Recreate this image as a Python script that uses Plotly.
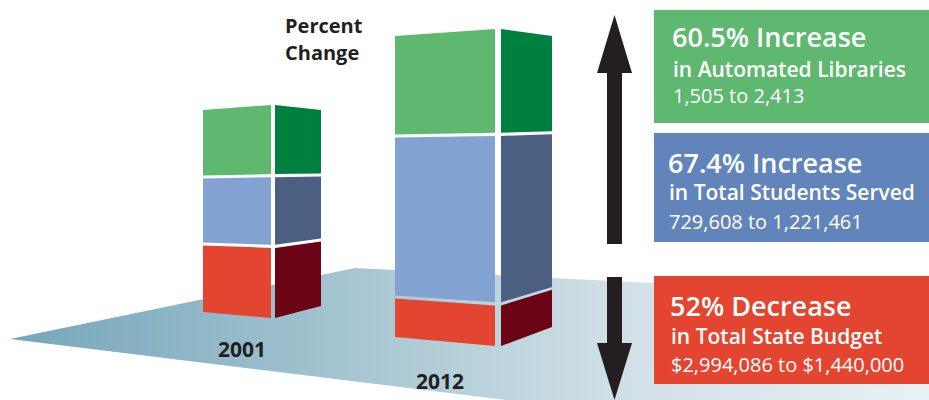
import plotly.graph_objects as go

# ---------------- data ----------------
years = ["2001", "2012"]
metrics = ["Total State Budget", "Total Students Served", "Automated Libraries"]  # bottom -> top
seg_2001 = [68, 67, 67]      # apparent segment heights (bottom -> top)
seg_2012 = [40, 161, 100]
pct_change = ["60.5% Increase", "67.4% Increase", "52% Decrease"]
box_metric = ["in Automated Libraries", "in Total Students Served", "in Total State Budget"]
box_range = ["1,505 to 2,413", "729,608 to 1,221,461", "$2,994,086 to $1,440,000"]

front_colors = ["#e44530", "#82a3d2", "#5eb86f"]
side_colors = ["#6b0414", "#4a5f82", "#00803f"]
box_colors = ["#5eb86f", "#6185ba", "#e44530"]
INK = "#231f20"

fig = go.Figure()

# floor
fig.add_trace(go.Scatter(
    x=[10, 355, 929, 929, 506, 10], y=[339, 268, 297, 400, 400, 339],
    mode="lines", fill="toself", line=dict(width=0),
    fillgradient=dict(type="horizontal",
                      colorscale=[[0, "#76a6bb"], [0.35, "#a2c3cf"], [0.65, "#cfdfe6"], [1, "#eaf1f4"]]),
    hoverinfo="skip", showlegend=False))

# bar geometry (pixel space)
bars = [
    dict(segs=seg_2001, fx=(203, 271), sx=(275, 321), base=312, fs=(6, -5), ss=(-12, 5)),
    dict(segs=seg_2012, fx=(395, 495), sx=(501, 552), base=337, fs=(9, -7), ss=(-19, 7)),
]
GAP = 3.0


def lerp(a, b, t):
    return a + (b - a) * t


for b in bars:
    segs = b["segs"]
    H = float(sum(segs))
    cum = [0.0]
    for s in segs:
        cum.append(cum[-1] + s)
    for i in range(len(segs)):
        h0 = cum[i] + (GAP / 2 if i > 0 else 0)
        h1 = cum[i + 1] - (GAP / 2 if i < len(segs) - 1 else 0)
        t0, t1 = h0 / H, h1 / H
        # front face
        yl0 = b["base"] - h0
        yl1 = b["base"] - h1
        yr0 = yl0 + lerp(b["fs"][0], b["fs"][1], t0)
        yr1 = yl1 + lerp(b["fs"][0], b["fs"][1], t1)
        fx0, fx1 = b["fx"]
        fig.add_trace(go.Scatter(
            x=[fx0, fx1, fx1, fx0, fx0], y=[yl0, yr0, yr1, yl1, yl0],
            mode="lines", fill="toself", fillcolor=front_colors[i], line=dict(width=0),
            hoverinfo="skip", showlegend=False))
        # side face
        sl0 = b["base"] - h0 + lerp(b["fs"][0], b["fs"][1], t0)
        sl1 = b["base"] - h1 + lerp(b["fs"][0], b["fs"][1], t1)
        sr0 = sl0 + lerp(b["ss"][0], b["ss"][1], t0)
        sr1 = sl1 + lerp(b["ss"][0], b["ss"][1], t1)
        sx0, sx1 = b["sx"]
        fig.add_trace(go.Scatter(
            x=[sx0, sx1, sx1, sx0, sx0], y=[sl0, sr0, sr1, sl1, sl0],
            mode="lines", fill="toself", fillcolor=side_colors[i], line=dict(width=0),
            hoverinfo="skip", showlegend=False))

shapes = []
# arrows
shapes.append(dict(type="path", path="M 614.5 15 L 632 73 L 622 73 L 622 244 L 607 244 L 607 73 L 597 73 Z",
                   fillcolor=INK, line=dict(width=0), layer="above"))
shapes.append(dict(type="path", path="M 607 277 L 622 277 L 622 343 L 632 343 L 614.5 400 L 597 343 L 607 343 Z",
                   fillcolor=INK, line=dict(width=0), layer="above"))
# boxes
box_y = [(10, 123), (133, 242), (276, 384)]
for (y0, y1), c in zip(box_y, box_colors):
    shapes.append(dict(type="rect", x0=654, x1=929, y0=y0, y1=y1, fillcolor=c,
                       line=dict(width=0), layer="above"))

FONT = "Open Sans"
ann = []


def txt(x, y, s, size, weight, color=INK, xanchor="left"):
    ann.append(dict(x=x, y=y, text=s, showarrow=False, xanchor=xanchor, yanchor="middle",
                    font=dict(family=FONT, size=size, color=color, weight=weight)))


title_y = [36.5, 162, 305.5]
metric_y = [69, 192, 335.5]
range_y = [95.5, 221, 364]
tx = [670, 666, 668]
for i in range(3):
    txt(tx[i], title_y[i], pct_change[i], 27, 600, "white")
    txt(tx[i] + 1, metric_y[i], box_metric[i], 21, 600, "white")
    txt(tx[i] + 1, range_y[i], box_range[i], 20, 400, "white")

txt(283, 25, "Percent", 20, 700)
txt(283, 52, "Change", 20, 700)
txt(242, 349, years[0], 21, 700, xanchor="center")
txt(440, 381, years[1], 21, 700, xanchor="center")

fig.update_layout(
    width=929, height=400, margin=dict(l=0, r=0, t=0, b=0),
    paper_bgcolor="white", plot_bgcolor="white",
    xaxis=dict(range=[0, 929], visible=False, fixedrange=True),
    yaxis=dict(range=[400, 0], visible=False, fixedrange=True),
    shapes=shapes, annotations=ann, showlegend=False,
)
fig.write_html("out.html", config={"displayModeBar": False},
               post_script="document.body.style.margin='0px';document.body.style.overflow='hidden';")
